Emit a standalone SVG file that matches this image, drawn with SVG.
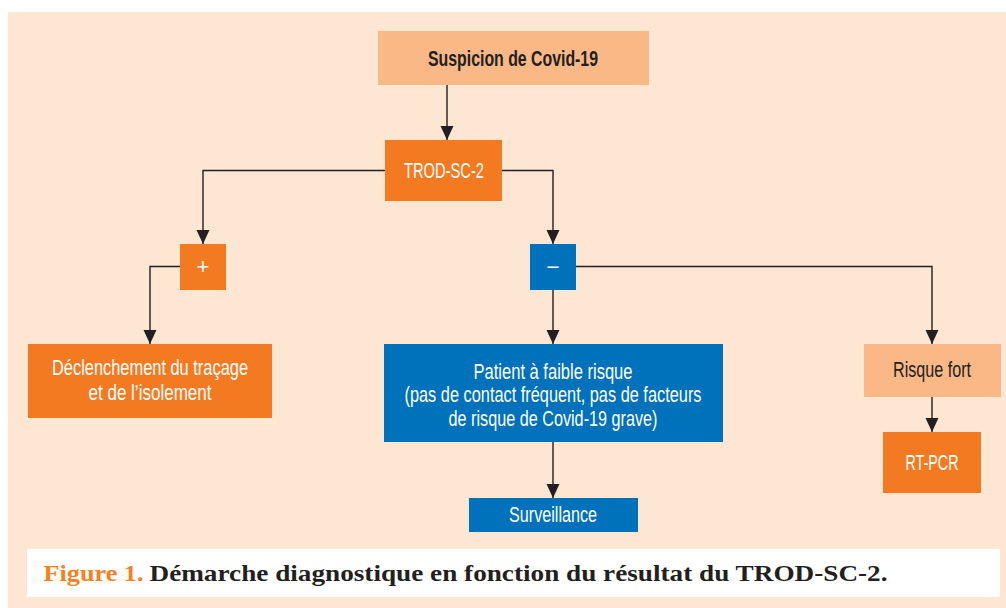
<svg xmlns="http://www.w3.org/2000/svg" width="1006" height="608" viewBox="0 0 1006 608">
  <defs>
    <marker id="arr" markerUnits="userSpaceOnUse" markerWidth="14" markerHeight="14" viewBox="0 0 13 12" refX="13" refY="6" orient="auto">
      <path d="M0,0 L13,6 L0,12 Z" fill="#231f20"/>
    </marker>
    <style>
      .bg { fill: #fde7d2; }
      .light { fill: #f9b886; }
      .orange { fill: #f37a21; }
      .blue { fill: #0071bb; }
      .t { font-family: "Liberation Sans", Arial, sans-serif; font-size: 22px; text-anchor: middle; }
      .w { fill: #ffffff; }
      .d { fill: #231f20; }
      .b { font-weight: bold; }
      .conn path { fill: none; stroke: #231f20; stroke-width: 1.4; marker-end: url(#arr); }
      .cap { font-family: "Liberation Serif", "Times New Roman", serif; font-size: 24px; font-weight: bold; }
    </style>
  </defs>

  <rect x="0" y="0" width="1006" height="608" fill="#ffffff"/>
  <rect class="bg" x="8" y="12" width="998" height="596"/>

  <g id="connectors" class="conn">
    <path d="M447,85 V140"/>
    <path d="M385,170.5 H203 V244"/>
    <path d="M502,170.5 H553 V244"/>
    <path d="M180,266.5 H150 V344"/>
    <path d="M553,290 V344"/>
    <path d="M576,266.5 H932 V344"/>
    <path d="M553,442 V498"/>
    <path d="M932,397 V432"/>
  </g>

  <g id="suspicion">
    <rect class="light" x="378" y="31" width="271" height="54"/>
    <text class="t d b" x="513" y="66" textLength="170" lengthAdjust="spacingAndGlyphs">Suspicion de Covid-19</text>
  </g>

  <g id="trod">
    <rect class="orange" x="385" y="140" width="117" height="61"/>
    <text class="t w" x="444" y="178" textLength="80" lengthAdjust="spacingAndGlyphs">TROD-SC-2</text>
  </g>

  <g id="positif">
    <rect class="orange" x="180" y="244" width="46" height="46"/>
    <text class="t w" x="203" y="274">+</text>
  </g>

  <g id="negatif">
    <rect class="blue" x="530" y="244" width="46" height="46"/>
    <text class="t w" x="553" y="273" textLength="11" lengthAdjust="spacingAndGlyphs">–</text>
  </g>

  <g id="declenchement">
    <rect class="orange" x="28" y="344" width="244" height="74"/>
    <text class="t w" x="150" y="375" textLength="196" lengthAdjust="spacingAndGlyphs">Déclenchement du traçage</text>
    <text class="t w" x="150" y="399.5" textLength="123" lengthAdjust="spacingAndGlyphs">et de l’isolement</text>
  </g>

  <g id="patient">
    <rect class="blue" x="384" y="344" width="339" height="98"/>
    <text class="t w" x="553" y="378.5" textLength="159" lengthAdjust="spacingAndGlyphs">Patient à faible risque</text>
    <text class="t w" x="553" y="402" textLength="297" lengthAdjust="spacingAndGlyphs">(pas de contact fréquent, pas de facteurs</text>
    <text class="t w" x="553" y="425.5" textLength="209" lengthAdjust="spacingAndGlyphs">de risque de Covid-19 grave)</text>
  </g>

  <g id="surveillance">
    <rect class="blue" x="469" y="498" width="169" height="34"/>
    <text class="t w" x="553" y="522" textLength="88" lengthAdjust="spacingAndGlyphs">Surveillance</text>
  </g>

  <g id="risque-fort">
    <rect class="light" x="864" y="344" width="137" height="53"/>
    <text class="t d" x="932" y="377" textLength="78" lengthAdjust="spacingAndGlyphs">Risque fort</text>
  </g>

  <g id="rt-pcr">
    <rect class="orange" x="883" y="432" width="98" height="61"/>
    <text class="t w" x="932" y="470" textLength="53" lengthAdjust="spacingAndGlyphs">RT-PCR</text>
  </g>

  <g id="caption">
    <rect x="27" y="549" width="973" height="48" fill="#ffffff"/>
    <text class="cap" x="43.5" y="581" fill="#f58220" textLength="100" lengthAdjust="spacingAndGlyphs">Figure 1.</text>
    <text class="cap" x="149.5" y="581" fill="#231f20" textLength="738" lengthAdjust="spacingAndGlyphs">Démarche diagnostique en fonction du résultat du TROD-SC-2.</text>
  </g>
</svg>
